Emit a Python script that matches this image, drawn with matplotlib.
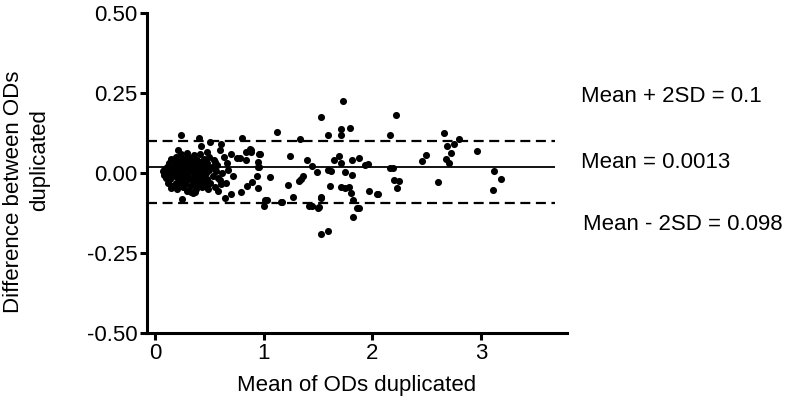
import numpy as np
import matplotlib
matplotlib.use('Agg')
import matplotlib.pyplot as plt

plt.rcParams['font.family'] = ['Liberation Sans', 'DejaVu Sans']

# Bland-Altman: mean of duplicated ODs vs difference
mean_od = [
    # dense cluster at low ODs
    0.07, 0.08, 0.09, 0.10, 0.11, 0.12, 0.12, 0.13, 0.14, 0.14, 0.15, 0.16, 0.16, 0.17, 0.18, 0.18,
    0.19, 0.19, 0.20, 0.20, 0.21, 0.22, 0.22, 0.23, 0.23, 0.24, 0.24, 0.25, 0.25, 0.26, 0.26, 0.27,
    0.27, 0.28, 0.28, 0.29, 0.29, 0.30, 0.30, 0.31, 0.31, 0.32, 0.32, 0.33, 0.33, 0.34, 0.34, 0.35,
    0.35, 0.36, 0.36, 0.37, 0.37, 0.38, 0.38, 0.39, 0.39, 0.40, 0.40, 0.41, 0.41, 0.42, 0.42, 0.43,
    0.43, 0.44, 0.44, 0.45, 0.45, 0.46, 0.46, 0.47, 0.48, 0.48, 0.49, 0.50, 0.50, 0.51, 0.52, 0.53,
    0.54, 0.55, 0.56, 0.57, 0.58, 0.62, 0.63, 0.65, 0.70,
    0.24, 0.40, 0.51, 0.61, 0.60, 0.21, 0.29, 0.48, 0.42, 0.15, 0.08, 0.11, 0.15, 0.25, 0.37, 0.35,
    0.48, 0.58, 0.64, 0.70, 0.79, 0.80, 0.55, 0.66, 0.67, 0.72, 0.60, 0.61, 0.75, 0.78,
    # middle range
    0.84, 0.88, 0.84, 0.95, 0.97, 0.95, 0.94, 0.89, 0.85, 0.95, 1.01, 1.00, 1.06, 1.12, 1.17, 1.22,
    1.24, 1.27, 1.33, 1.32, 1.36, 1.40, 1.44, 1.44, 1.50, 1.53, 0.87, 0.88, 0.96, 0.96, 1.03, 1.16,
    1.34, 1.42, 1.49, 1.59, 1.62, 1.65, 1.69, 1.71, 1.75, 1.81, 1.81, 1.88, 1.93, 1.96, 1.61, 1.71,
    1.75, 1.78, 1.80, 1.82, 1.88, 1.86, 1.82, 1.97, 2.04, 1.53, 1.59, 1.73, 1.53, 1.59, 1.71, 1.71,
    1.79, 1.51, 1.53,
    # high ODs
    2.22, 2.16, 2.49, 2.46, 2.16, 2.19, 2.20, 2.24, 2.23, 2.60, 2.05,
    2.66, 2.69, 2.75, 2.80, 2.72, 2.68, 2.70, 2.96, 3.12, 3.18, 3.11,
]
diff_od = [
    0.005, -0.005, 0.012, -0.015, 0.02, 0.0, -0.03, 0.03, 0.01, -0.02, 0.045, 0.0, -0.04, 0.02, -0.01, 0.035,
    0.05, -0.03, 0.01, -0.05, 0.025, -0.015, 0.04, 0.0, -0.035, 0.06, 0.015, -0.02, 0.03, -0.045, 0.005, 0.045,
    -0.01, 0.02, -0.03, 0.035, -0.055, 0.0, 0.05, -0.02, 0.015, -0.04, 0.03, 0.005, -0.06, 0.04, -0.015, 0.02,
    -0.035, 0.0, 0.055, -0.025, 0.025, -0.05, 0.01, 0.04, -0.01, -0.035, 0.02, 0.0, 0.06, -0.02, 0.035, -0.045,
    0.01, 0.025, -0.03, 0.045, -0.01, 0.015, -0.04, 0.0, 0.03, -0.02, -0.05, 0.01, 0.05, -0.03, 0.02, -0.01,
    0.04, -0.045, 0.005, 0.025, -0.015, 0.0, 0.05, -0.03, 0.06,
    0.119, 0.108, 0.098, 0.091, 0.072, 0.072, 0.063, 0.067, 0.084, 0.041, 0.009, -0.012, -0.048, -0.082, -0.058, -0.063,
    -0.043, -0.056, -0.077, -0.067, -0.058, 0.108, 0.035, 0.032, 0.009, -0.009, -0.022, -0.035, 0.046, 0.046,
    0.066, 0.072, 0.041, 0.035, 0.059, 0.020, -0.009, -0.027, -0.040, -0.048, -0.084, -0.103, -0.013, 0.129, -0.092, -0.038,
    0.053, -0.074, 0.105, -0.024, -0.009, 0.041, 0.022, -0.102, -0.108, -0.077, 0.074, 0.067, 0.058, 0.018, -0.084, -0.090,
    -0.019, -0.103, 0.004, 0.009, 0.006, 0.041, 0.053, 0.030, 0.004, 0.041, -0.006, 0.048, 0.025, 0.028, -0.041, -0.045,
    -0.048, -0.043, -0.063, -0.084, -0.110, -0.110, -0.137, -0.055, -0.067, 0.176, 0.119, 0.226, -0.191, -0.182, 0.119, 0.137,
    0.142, -0.107, -0.076,
    0.18, 0.119, 0.056, 0.038, 0.016, 0.016, -0.022, -0.024, -0.048, -0.027, -0.067,
    0.126, 0.084, 0.091, 0.106, 0.063, 0.044, 0.031, 0.069, 0.006, -0.019, -0.053,
]

# agreement lines: mean + 2SD, mean, mean - 2SD
line_levels = [0.1, 0.02, -0.095]
line_styles = ['--', '-', '--']
line_labels = ['Mean + 2SD = 0.1', 'Mean = 0.0013', 'Mean - 2SD = 0.098']

fig = plt.figure(figsize=(7.89, 4.03), dpi=100)
ax = fig.add_axes([147 / 789, 1 - 333 / 403, (567 - 147) / 789, 320 / 403])

ax.scatter(mean_od, diff_od, s=26, color='black', linewidths=0, zorder=3)

for lev, ls in zip(line_levels, line_styles):
    if ls == '--':
        ax.hlines(lev, -0.074, 3.68, colors='black', linestyles=[(0, (4.5, 2.5))], linewidth=1.6)
    else:
        ax.hlines(lev, -0.074, 3.68, colors='black', linestyles='-', linewidth=1.3)

ax.set_xlim(-0.074, 3.79)
ax.set_ylim(-0.5, 0.5)
ax.set_xticks([0, 1, 2, 3])
ax.set_yticks([-0.5, -0.25, 0, 0.25, 0.5])
ax.set_yticklabels(['-0.50', '-0.25', '0.00', '0.25', '0.50'])

for side in ['top', 'right']:
    ax.spines[side].set_visible(False)
for side in ['left', 'bottom']:
    ax.spines[side].set_linewidth(2.2)
ax.tick_params(axis='both', width=2.2, length=5, labelsize=16, pad=2)

ax.set_xlabel('Mean of ODs duplicated', fontsize=16, labelpad=8)

# y label: two lines placed like the original
fig.text(14 / 789, 1 - 192 / 403, 'Difference between ODs', fontsize=16,
         rotation=90, ha='center', va='center')
fig.text(40 / 789, 1 - 160 / 403, 'duplicated', fontsize=16,
         rotation=90, ha='center', va='center')

# labels on the right of the lines
label_pos = [(581, 96), (581, 162), (583, 224)]
for (px, py), txt in zip(label_pos, line_labels):
    fig.text(px / 789, 1 - py / 403, txt, fontsize=16, ha='left', va='center')

fig.savefig('out.png', dpi=100)
